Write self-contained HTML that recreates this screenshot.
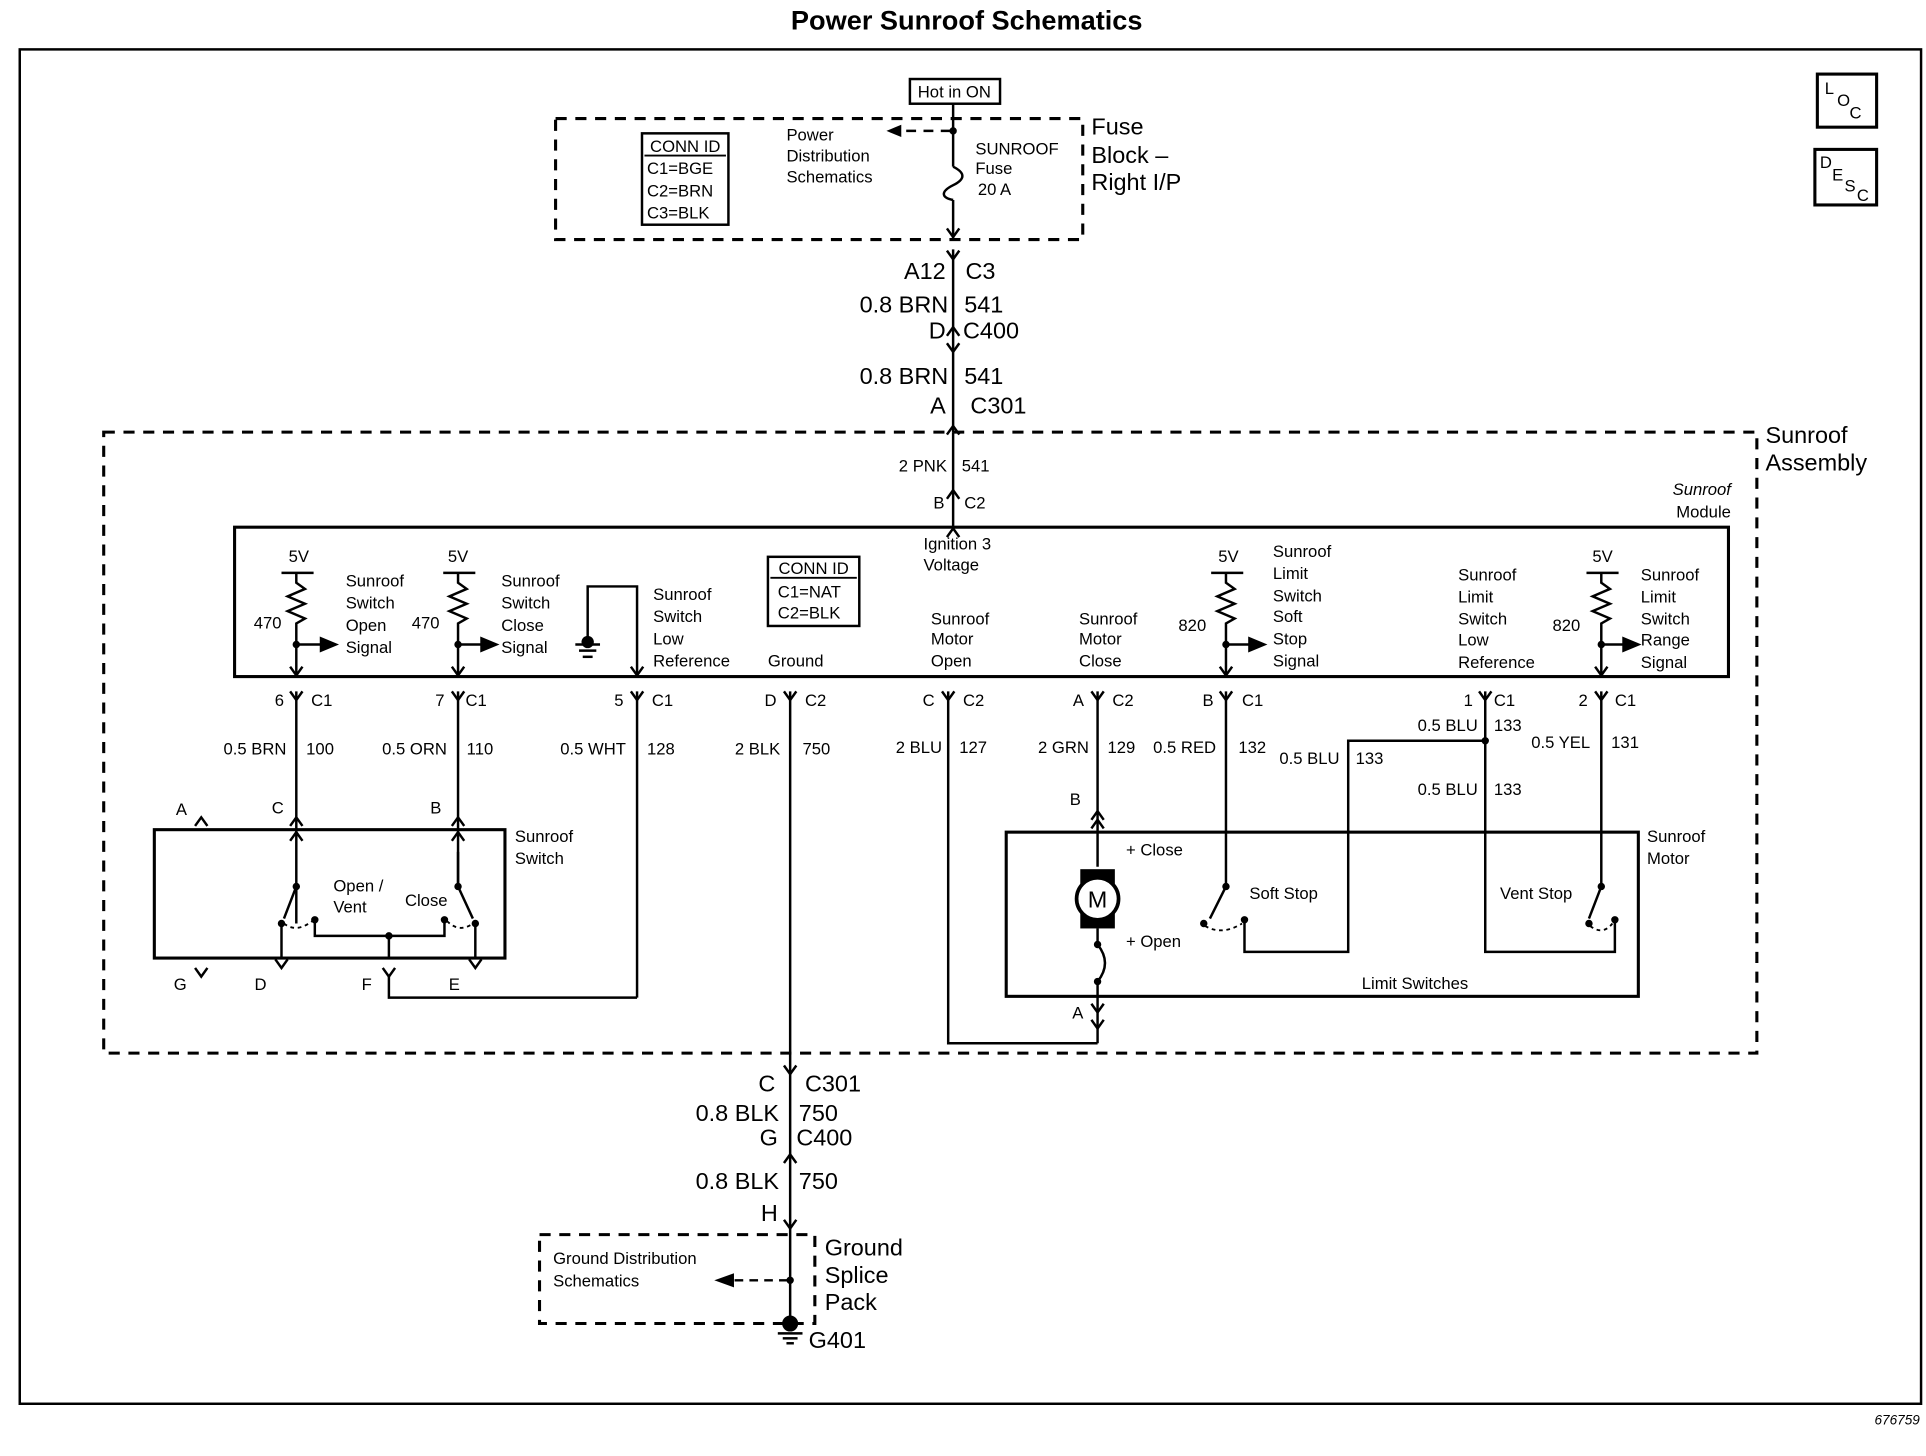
<!DOCTYPE html>
<html><head><meta charset="utf-8"><style>
html,body{margin:0;padding:0;background:#fff}
svg{display:block}
text{font-family:"Liberation Sans",Arial,sans-serif;fill:#000}
.s{font-size:13.5px}
.m{font-size:14.5px}
.b{font-size:19px}
line,path,rect,polyline,circle{stroke:#000;fill:none}
</style></head><body>
<svg width="1926" height="1456" viewBox="0 0 1560 1179.3" xmlns="http://www.w3.org/2000/svg">
<defs>
<path id="Y" d="M-5 -7 L0 0 L5 -7" stroke-width="2"/>
<path id="V" d="M-5 7 L0 0 L5 7" stroke-width="2"/>
<path id="A" d="M-5 -7 L0 0 L5 -7" stroke-width="2"/>
</defs>
<text x="783" y="24" text-anchor="middle" style="font-size:22px;font-weight:bold">Power Sunroof Schematics</text>
<rect x="16" y="40" width="1540" height="1097" stroke-width="2"/>
<text x="1555" y="1154" text-anchor="end" style="font-size:11px;font-style:italic">676759</text>
<!-- LOC / DESC -->
<rect x="1472" y="60" width="48" height="43" stroke-width="2.5"/>
<text x="1478" y="76" class="s">L</text><text x="1488" y="86" class="s">O</text><text x="1498" y="96" class="s">C</text>
<rect x="1470" y="121" width="50" height="45" stroke-width="2.5"/>
<text x="1474" y="136" class="s">D</text><text x="1484" y="146" class="s">E</text><text x="1494" y="155" class="s">S</text><text x="1504" y="163" class="s">C</text>

<!-- Fuse block -->
<rect x="737" y="64" width="73" height="20" stroke-width="2"/>
<text x="773" y="79" text-anchor="middle" class="s">Hot in ON</text>
<rect x="450" y="96" width="427" height="98" stroke-width="2.5" stroke-dasharray="9 7"/>
<text x="884" y="109" class="b">Fuse</text><text x="884" y="132" class="b">Block –</text><text x="884" y="154" class="b">Right I/P</text>
<rect x="520" y="108" width="70" height="74" stroke-width="2"/>
<text x="555" y="123" text-anchor="middle" class="s">CONN ID</text><line x1="522" y1="126" x2="588" y2="126" stroke-width="1.5"/>
<text x="524" y="141" class="s">C1=BGE</text><text x="524" y="159" class="s">C2=BRN</text><text x="524" y="177" class="s">C3=BLK</text>
<text x="637" y="114" class="s">Power</text><text x="637" y="131" class="s">Distribution</text><text x="637" y="148" class="s">Schematics</text>
<line x1="772" y1="84" x2="772" y2="135" stroke-width="2"/>
<circle cx="772" cy="106" r="2.5" style="fill:#000"/>
<line x1="770" y1="106" x2="728" y2="106" stroke-width="2" stroke-dasharray="8 6"/>
<path d="M718 106 L730 101 L730 111 Z" style="fill:#000;stroke:none"/>
<path d="M772 135 C782 140 782 145 772 150 C762 155 762 160 772 162" stroke-width="2"/>
<line x1="772" y1="162" x2="772" y2="194" stroke-width="2"/>
<text x="790" y="125" class="s">SUNROOF</text><text x="790" y="141" class="s">Fuse</text><text x="792" y="158" class="s">20 A</text>
<use href="#Y" x="772" y="192"/>
<line x1="772" y1="202" x2="772" y2="350" stroke-width="2"/>
<use href="#Y" x="772" y="210"/>
<text x="766" y="226" text-anchor="end" class="b">A12</text><text x="782" y="226" class="b">C3</text>
<text x="768" y="253" text-anchor="end" class="b">0.8 BRN</text><text x="781" y="253" class="b">541</text>
<text x="766" y="274" text-anchor="end" class="b">D</text><text x="780" y="274" class="b">C400</text>
<use href="#V" x="772" y="265"/><use href="#Y" x="772" y="285"/>
<text x="768" y="311" text-anchor="end" class="b">0.8 BRN</text><text x="781" y="311" class="b">541</text>
<text x="766" y="335" text-anchor="end" class="b">A</text><text x="786" y="335" class="b">C301</text>
<use href="#V" x="772" y="345"/>

<!-- sunroof assembly -->
<rect x="84" y="350" width="1339" height="503" stroke-width="2.5" stroke-dasharray="9 7"/>
<text x="1430" y="359" class="b">Sunroof</text><text x="1430" y="381" class="b">Assembly</text>
<line x1="772" y1="350" x2="772" y2="427" stroke-width="2"/>
<text x="767" y="382" text-anchor="end" class="s">2 PNK</text><text x="779" y="382" class="s">541</text>
<text x="765" y="412" text-anchor="end" class="s">B</text><text x="781" y="412" class="s">C2</text>
<use href="#V" x="772" y="397"/>
<use href="#V" x="772" y="428"/>
<text x="748" y="445" class="s">Ignition 3</text><text x="748" y="462" class="s">Voltage</text>
<text x="1402" y="401" text-anchor="end" class="s" font-style="italic">Sunroof</text><text x="1402" y="419" text-anchor="end" class="s">Module</text>

<!-- module -->
<rect x="190" y="427" width="1210" height="121" stroke-width="2.5"/>
<g stroke-width="2">
<line x1="228" y1="464" x2="254" y2="464"/><path d="M240 464 V472 L247 477 L233 483 L247 489 L233 495 L247 501 L240 505 V548"/>
<line x1="240" y1="522" x2="262" y2="522"/><path d="M272 522 L260 517 L260 527Z" style="fill:#000"/>
<line x1="359" y1="464" x2="385" y2="464"/><path d="M371 464 V472 L378 477 L364 483 L378 489 L364 495 L378 501 L371 505 V548"/>
<line x1="371" y1="522" x2="392" y2="522"/><path d="M402 522 L390 517 L390 527Z" style="fill:#000"/>
<line x1="981" y1="464" x2="1007" y2="464"/><path d="M993 464 V472 L1000 477 L986 483 L1000 489 L986 495 L1000 501 L993 505 V548"/>
<line x1="993" y1="522" x2="1014" y2="522"/><path d="M1024 522 L1012 517 L1012 527Z" style="fill:#000"/>
<line x1="1285" y1="464" x2="1311" y2="464"/><path d="M1297 464 V472 L1304 477 L1290 483 L1304 489 L1290 495 L1304 501 L1297 505 V548"/>
<line x1="1297" y1="522" x2="1317" y2="522"/><path d="M1327 522 L1315 517 L1315 527Z" style="fill:#000"/>
<path d="M476 520 V475 H516 V548"/>
<line x1="466" y1="522" x2="486" y2="522"/><line x1="469" y1="527" x2="483" y2="527"/><line x1="472" y1="532" x2="480" y2="532"/>
</g>
<circle cx="240" cy="522" r="2.5" style="fill:#000"/><circle cx="371" cy="522" r="2.5" style="fill:#000"/><circle cx="993" cy="522" r="2.5" style="fill:#000"/><circle cx="1297" cy="522" r="2.5" style="fill:#000"/>
<circle cx="476" cy="520" r="4.5" style="fill:#000"/>
<use href="#Y" x="240" y="547"/><use href="#Y" x="371" y="547"/><use href="#Y" x="516" y="547"/><use href="#Y" x="993" y="547"/><use href="#Y" x="1297" y="547"/>
<text x="242" y="455" text-anchor="middle" class="s">5V</text><text x="371" y="455" text-anchor="middle" class="s">5V</text>
<text x="995" y="455" text-anchor="middle" class="s">5V</text><text x="1298" y="455" text-anchor="middle" class="s">5V</text>
<text x="228" y="509" text-anchor="end" class="s">470</text><text x="356" y="509" text-anchor="end" class="s">470</text>
<text x="977" y="511" text-anchor="end" class="s">820</text><text x="1280" y="511" text-anchor="end" class="s">820</text>
<g class="s">
<text x="280" y="475">Sunroof</text><text x="280" y="493">Switch</text><text x="280" y="511">Open</text><text x="280" y="529">Signal</text>
<text x="406" y="475">Sunroof</text><text x="406" y="493">Switch</text><text x="406" y="511">Close</text><text x="406" y="529">Signal</text>
<text x="529" y="486">Sunroof</text><text x="529" y="504">Switch</text><text x="529" y="522">Low</text><text x="529" y="540">Reference</text>
<text x="622" y="540">Ground</text>
<text x="754" y="506">Sunroof</text><text x="754" y="522">Motor</text><text x="754" y="540">Open</text>
<text x="874" y="506">Sunroof</text><text x="874" y="522">Motor</text><text x="874" y="540">Close</text>
<text x="1031" y="451">Sunroof</text><text x="1031" y="469">Limit</text><text x="1031" y="487">Switch</text><text x="1031" y="504">Soft</text><text x="1031" y="522">Stop</text><text x="1031" y="540">Signal</text>
<text x="1181" y="470">Sunroof</text><text x="1181" y="488">Limit</text><text x="1181" y="506">Switch</text><text x="1181" y="523">Low</text><text x="1181" y="541">Reference</text>
<text x="1329" y="470">Sunroof</text><text x="1329" y="488">Limit</text><text x="1329" y="506">Switch</text><text x="1329" y="523">Range</text><text x="1329" y="541">Signal</text>
</g>
<rect x="622" y="451" width="74" height="56" stroke-width="2"/>
<text x="659" y="465" text-anchor="middle" class="s">CONN ID</text><line x1="624" y1="468" x2="694" y2="468" stroke-width="1.5"/>
<text x="630" y="484" class="s">C1=NAT</text><text x="630" y="501" class="s">C2=BLK</text>

<!-- wires below module -->
<g stroke-width="2">
<line x1="240" y1="560" x2="240" y2="748"/><line x1="371" y1="560" x2="371" y2="718"/>
<line x1="516" y1="560" x2="516" y2="808"/><path d="M516 808 H315 V790"/>
<line x1="640" y1="560" x2="640" y2="1070"/>
<path d="M768 560 V845 H889"/>
<line x1="889" y1="560" x2="889" y2="702"/>
<line x1="993" y1="560" x2="993" y2="718"/>
<path d="M1203 560 V771 H1308 V745"/>
<path d="M1203 600 H1092 V771 H1008 V745"/>
<line x1="1297" y1="560" x2="1297" y2="718"/>
</g>
<circle cx="1203" cy="600" r="2.5" style="fill:#000"/>
<g>
<use href="#Y" x="240" y="567"/><use href="#Y" x="371" y="567"/><use href="#Y" x="516" y="567"/><use href="#Y" x="640" y="567"/><use href="#Y" x="768" y="567"/><use href="#Y" x="889" y="567"/><use href="#Y" x="993" y="567"/><use href="#Y" x="1203" y="567"/><use href="#Y" x="1297" y="567"/>
</g>
<g class="s">
<text x="230" y="572" text-anchor="end">6</text><text x="252" y="572">C1</text>
<text x="360" y="572" text-anchor="end">7</text><text x="377" y="572">C1</text>
<text x="505" y="572" text-anchor="end">5</text><text x="528" y="572">C1</text>
<text x="629" y="572" text-anchor="end">D</text><text x="652" y="572">C2</text>
<text x="757" y="572" text-anchor="end">C</text><text x="780" y="572">C2</text>
<text x="878" y="572" text-anchor="end">A</text><text x="901" y="572">C2</text>
<text x="983" y="572" text-anchor="end">B</text><text x="1006" y="572">C1</text>
<text x="1193" y="572" text-anchor="end">1</text><text x="1210" y="572">C1</text>
<text x="1286" y="572" text-anchor="end">2</text><text x="1308" y="572">C1</text>
<text x="232" y="611" text-anchor="end">0.5 BRN</text><text x="248" y="611">100</text>
<text x="362" y="611" text-anchor="end">0.5 ORN</text><text x="378" y="611">110</text>
<text x="507" y="611" text-anchor="end">0.5 WHT</text><text x="524" y="611">128</text>
<text x="632" y="611" text-anchor="end">2 BLK</text><text x="650" y="611">750</text>
<text x="763" y="610" text-anchor="end">2 BLU</text><text x="777" y="610">127</text>
<text x="882" y="610" text-anchor="end">2 GRN</text><text x="897" y="610">129</text>
<text x="985" y="610" text-anchor="end">0.5 RED</text><text x="1003" y="610">132</text>
<text x="1197" y="592" text-anchor="end">0.5 BLU</text><text x="1210" y="592">133</text>
<text x="1085" y="619" text-anchor="end">0.5 BLU</text><text x="1098" y="619">133</text>
<text x="1197" y="644" text-anchor="end">0.5 BLU</text><text x="1210" y="644">133</text>
<text x="1288" y="606" text-anchor="end">0.5 YEL</text><text x="1305" y="606">131</text>
</g>

<!-- Sunroof switch -->
<rect x="125" y="672" width="284" height="104" stroke-width="2.5"/>
<text x="417" y="682" class="s">Sunroof</text><text x="417" y="700" class="s">Switch</text>
<use href="#V" x="240" y="662"/><use href="#V" x="240" y="674"/><use href="#V" x="371" y="662"/><use href="#V" x="371" y="674"/>
<use href="#V" x="163" y="662"/>
<text x="147" y="660" class="s" text-anchor="middle">A</text><text x="225" y="659" class="s" text-anchor="middle">C</text><text x="353" y="659" class="s" text-anchor="middle">B</text>
<g stroke-width="2">
<line x1="240" y1="718" x2="230" y2="744"/><line x1="371" y1="718" x2="383" y2="744"/>
<line x1="228" y1="748" x2="228" y2="776"/><line x1="385" y1="748" x2="385" y2="776"/>
<path d="M255 745 V758 H360 V745"/><line x1="315" y1="758" x2="315" y2="776"/>
<line x1="371" y1="690" x2="371" y2="718"/>
</g>
<circle cx="240" cy="718" r="2.5" style="fill:#000"/><circle cx="371" cy="718" r="2.5" style="fill:#000"/>
<circle cx="228" cy="748" r="2.5" style="fill:#000"/><circle cx="255" cy="745" r="2.5" style="fill:#000"/>
<circle cx="360" cy="745" r="2.5" style="fill:#000"/><circle cx="385" cy="748" r="2.5" style="fill:#000"/><circle cx="315" cy="758" r="2.5" style="fill:#000"/>
<path d="M230 748 Q240 756 253 746" stroke-width="1.5" stroke-dasharray="3 3"/>
<path d="M362 746 Q372 756 383 748" stroke-width="1.5" stroke-dasharray="3 3"/>
<text x="270" y="722" class="s">Open /</text><text x="270" y="739" class="s">Vent</text><text x="328" y="734" class="s">Close</text>
<use href="#A" x="228" y="784"/><use href="#A" x="385" y="784"/><use href="#A" x="163" y="791"/>
<use href="#Y" x="315" y="791"/>
<text x="146" y="802" class="s" text-anchor="middle">G</text><text x="211" y="802" class="s" text-anchor="middle">D</text>
<text x="297" y="802" class="s" text-anchor="middle">F</text><text x="368" y="802" class="s" text-anchor="middle">E</text>

<!-- motor -->
<rect x="815" y="674" width="512" height="133" stroke-width="2.5"/>
<text x="1334" y="682" class="s">Sunroof</text><text x="1334" y="700" class="s">Motor</text>
<text x="871" y="652" class="s" text-anchor="middle">B</text>
<use href="#V" x="889" y="657"/><use href="#V" x="889" y="664"/>
<rect x="875" y="704" width="28" height="48" style="fill:#000;stroke:none"/>
<circle cx="889" cy="728" r="17" style="fill:#fff" stroke-width="3"/>
<text x="889" y="735" text-anchor="middle" style="font-size:19px">M</text>
<g stroke-width="2">
<line x1="889" y1="752" x2="889" y2="765"/><path d="M889 765 C897 775 897 785 889 795"/><line x1="889" y1="795" x2="889" y2="845"/>
<line x1="993" y1="718" x2="980" y2="744"/><line x1="1297" y1="718" x2="1287" y2="744"/>
</g>
<circle cx="889" cy="765" r="2.5" style="fill:#000"/><circle cx="889" cy="795" r="2.5" style="fill:#000"/>
<circle cx="993" cy="718" r="2.5" style="fill:#000"/><circle cx="975" cy="748" r="2.5" style="fill:#000"/><circle cx="1008" cy="745" r="2.5" style="fill:#000"/>
<circle cx="1297" cy="718" r="2.5" style="fill:#000"/><circle cx="1287" cy="748" r="2.5" style="fill:#000"/><circle cx="1308" cy="745" r="2.5" style="fill:#000"/>
<path d="M976 750 Q990 758 1006 748" stroke-width="1.5" stroke-dasharray="3 3"/>
<path d="M1288 750 Q1298 758 1306 748" stroke-width="1.5" stroke-dasharray="3 3"/>
<use href="#A" x="889" y="820"/><use href="#A" x="889" y="833"/>
<text x="873" y="825" class="s" text-anchor="middle">A</text>
<text x="912" y="693" class="s">+ Close</text><text x="912" y="767" class="s">+ Open</text>
<text x="1012" y="728" class="s">Soft Stop</text><text x="1215" y="728" class="s">Vent Stop</text>
<text x="1103" y="801" class="s">Limit Switches</text>

<!-- bottom chain -->
<use href="#Y" x="640" y="870"/><use href="#V" x="640" y="935"/><use href="#Y" x="640" y="995"/>
<text x="628" y="884" text-anchor="end" class="b">C</text><text x="652" y="884" class="b">C301</text>
<text x="631" y="908" text-anchor="end" class="b">0.8 BLK</text><text x="647" y="908" class="b">750</text>
<text x="630" y="928" text-anchor="end" class="b">G</text><text x="645" y="928" class="b">C400</text>
<text x="631" y="963" text-anchor="end" class="b">0.8 BLK</text><text x="647" y="963" class="b">750</text>
<text x="630" y="989" text-anchor="end" class="b">H</text>
<rect x="437" y="1000" width="223" height="72" stroke-width="2.5" stroke-dasharray="9 7"/>
<text x="448" y="1024" class="s">Ground Distribution</text><text x="448" y="1042" class="s">Schematics</text>
<circle cx="640" cy="1037" r="2.5" style="fill:#000"/>
<line x1="638" y1="1037" x2="594" y2="1037" stroke-width="2" stroke-dasharray="7 5"/>
<path d="M580 1037 L594 1032 L594 1042Z" style="fill:#000"/>
<circle cx="640" cy="1072" r="6" style="fill:#000"/>
<line x1="630" y1="1080" x2="650" y2="1080" stroke-width="2"/><line x1="634" y1="1084" x2="646" y2="1084" stroke-width="2"/><line x1="637" y1="1088" x2="643" y2="1088" stroke-width="2"/>
<text x="655" y="1092" class="b">G401</text>
<text x="668" y="1017" class="b">Ground</text><text x="668" y="1039" class="b">Splice</text><text x="668" y="1061" class="b">Pack</text>
</svg>
</body></html>
